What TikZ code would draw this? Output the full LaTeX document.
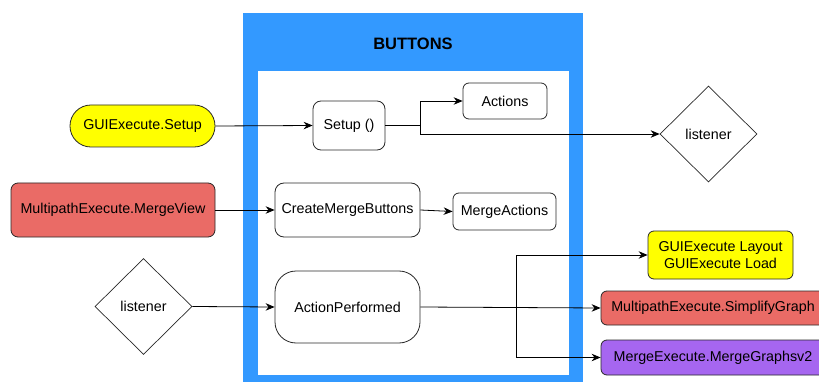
\documentclass[tikz,border=0pt]{standalone}
\usepackage{fontspec}
\setmainfont{Liberation Sans}
\usetikzlibrary{arrows.meta,shapes.geometric}
\definecolor{cblue}{RGB}{51,153,255}
\definecolor{cyellow}{RGB}{255,255,0}
\definecolor{cred}{RGB}{234,107,102}
\definecolor{cpurple}{RGB}{166,102,240}
\definecolor{cedge}{RGB}{40,40,40}
\tikzset{
  box/.style={draw=cedge, line width=0.8pt, rectangle, rounded corners=#1, inner sep=0pt, align=center,
    font=\fontsize{14.3}{17}\selectfont},
  box/.default=7pt,
  decision/.style={draw=cedge, line width=0.7pt, diamond, inner sep=0pt, aspect=1,
    minimum width=97pt, minimum height=96pt, font=\fontsize{14.3}{17}\selectfont},
  link/.style={draw=black, line width=0.8pt},
  arr/.style={link, -{Stealth[length=9pt,width=7.5pt]}},
}
\begin{document}
\begin{tikzpicture}[x=1pt,y=-1pt]
\useasboundingbox (0,0) rectangle (819,382);
\begin{scope}
\clip (0,0) rectangle (819,382);
% container
\fill[cblue] (243,13) rectangle (583,385);
\fill[white] (258,71) rectangle (569,375);
\node[font=\bfseries\fontsize{16.5}{19}\selectfont] (title) at (413,44) {BUTTONS};

% nodes inside the container
\node[box=8pt, minimum width=72pt, minimum height=49pt] (setup) at (349,125.5) {Setup ()};
\node[box=6pt, minimum width=84pt, minimum height=36pt] (actions) at (505,101) {Actions};
\node[box=9pt, minimum width=145pt, minimum height=54pt] (cmb) at (347.5,210) {CreateMergeButtons};
\node[box=6pt, minimum width=103pt, minimum height=37pt] (mactions) at (504.5,211.5) {MergeActions};
\node[box=21pt, minimum width=145pt, minimum height=72pt] (ap) at (347.5,307) {ActionPerformed};

% nodes on the left
\node[box=20.9pt, fill=cyellow, minimum width=145pt, minimum height=42pt] (gsetup) at (142.5,126) {GUIExecute.Setup};
\node[box=7pt, fill=cred, minimum width=204pt, minimum height=54pt] (mview) at (113,210) {MultipathExecute.MergeView};
\node[decision] (lisL) at (143.5,306.5) {listener};

% nodes on the right
\node[decision] (lisR) at (708.5,134) {listener};
\node[box=6pt, fill=cyellow, minimum width=145pt, minimum height=48pt] (glayout) at (720.5,255) {GUIExecute Layout\\GUIExecute Load};
\node[box=6pt, fill=cred, minimum width=224pt, minimum height=34pt] (simp) at (713,308) {MultipathExecute.SimplifyGraph};
\node[box=6pt, fill=cpurple, minimum width=224pt, minimum height=35pt] (mgraphs) at (713,357.5) {MergeExecute.MergeGraphsv2};

% connectors
\draw[arr] (gsetup.east) -- (setup.west);
\draw[link] (setup.east) -- (420,125.5) coordinate (sj);
\draw[arr] (sj) |- (actions.west);
\draw[arr] (sj) |- (lisR.west);
\draw[arr] (mview.east) -- (cmb.west);
\draw[arr] (cmb.east) -- (mactions.west);
\draw[arr] (lisL.east) -- (ap.west);
\draw[arr] (ap.east) -- (simp.west);
\coordinate (aj) at (516,307);
\draw[arr] (aj) |- (glayout.west);
\draw[arr] (aj) |- (mgraphs.west);
\end{scope}
\end{tikzpicture}
\end{document}
